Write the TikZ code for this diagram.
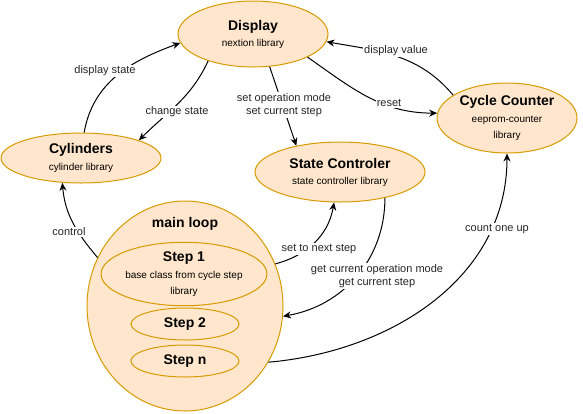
\documentclass[tikz,border=0pt]{standalone}
\usepackage{fontspec}
\setmainfont{Liberation Sans}
\usetikzlibrary{shapes.geometric,arrows.meta}
\definecolor{nfill}{HTML}{FFE6CC}
\definecolor{nline}{HTML}{D79B00}
\newcommand\ttext[1]{{\fontsize{14}{17}\selectfont\bfseries #1}}
\newcommand\stext[1]{{\fontsize{10}{16}\selectfont #1}}
\begin{document}
\begin{tikzpicture}[x=1pt,y=1pt,
 ell/.style={ellipse, draw=nline, fill=nfill, line width=1pt, inner sep=0pt, align=center, text=black, font=\fontsize{10}{16}\selectfont},
 conn/.style={draw=black, line width=1pt, -{Stealth[length=8pt,width=7pt]}},
 lbl/.style={fill=white, inner sep=1pt, font=\fontsize{11}{13}\selectfont, align=center, text=black!85}
]
\useasboundingbox (0,0) rectangle (583,-413);

\node[ell, minimum width=150, minimum height=66] (disp) at (253,-34) {\ttext{Display}\\\stext{nextion library}};
\node[ell, minimum width=160, minimum height=50] (cyl) at (81,-158) {\ttext{Cylinders}\\[1pt]\stext{cylinder library}};
\node[ell, minimum width=140, minimum height=70] (cc) at (507,-118) {\ttext{Cycle Counter}\\[1pt]\stext{eeprom-counter}\\\stext{library}};
\node[ell, minimum width=170, minimum height=60] (sc) at (340,-172) {\ttext{State Controler}\\\stext{state controller library}};
\node[ell, minimum width=196, minimum height=210] (main) at (185,-306) {};
\node[font=\fontsize{14}{17}\selectfont\bfseries] (mainlbl) at (185,-224) {main loop};
\node[ell, minimum width=138, minimum height=56] (s1) at (184,-274) {\ttext{Step 1}\\[1pt]\stext{base class from cycle step}\\\stext{library}};
\node[ell, minimum width=108, minimum height=32] (s2) at (185,-324) {\ttext{Step 2}};
\node[ell, minimum width=108, minimum height=32] (sn) at (185,-361) {\ttext{Step n}};

\draw[conn] (cyl.83) to[out=80,in=200] (disp.187);
\draw[conn] (disp.211) to[out=245,in=45] (cyl.17);
\draw[conn] (disp.297) -- (sc.149);
\draw[conn] (disp.337) to[out=-35,in=180] (cc.176);
\draw[conn] (cc.157) to[out=130,in=-10] (disp.354);
\draw[conn] (main.151) to[out=130,in=275] (cyl.233);
\draw[conn] (main.25) to[out=15,in=260] (sc.259);
\draw[conn] (sc.330) to[out=270,in=10] (main.354);
\draw[conn] (main.326) to[out=5,in=270] (cc.270);

\node[lbl] (l1) at (105,-71) {display state};
\node[lbl] (l2) at (177,-112) {change state};
\node[lbl] (l3) at (284,-105) {set operation mode\\set current step};
\node[lbl] (l4) at (389,-103) {reset};
\node[lbl] (l5) at (396,-51) {display value};
\node[lbl] (l6) at (69,-232) {control};
\node[lbl] (l7) at (319,-249) {set to next step};
\node[lbl] (l8) at (377,-276) {get current operation mode\\get current step};
\node[lbl] (l9) at (497,-229) {count one up};
\end{tikzpicture}
\end{document}
